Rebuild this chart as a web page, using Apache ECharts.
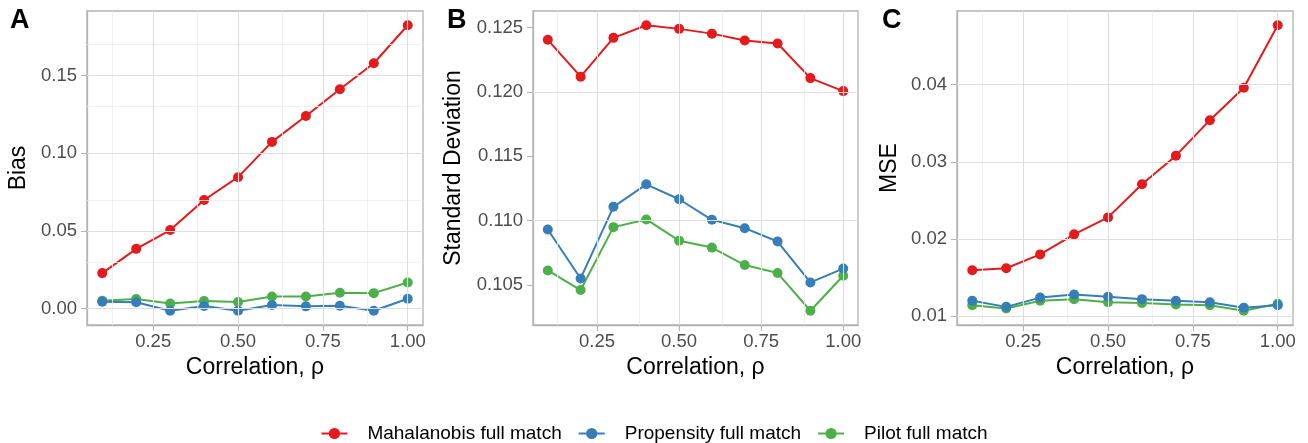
<!DOCTYPE html>
<html><head><meta charset="utf-8">
<script src="https://cdn.jsdelivr.net/npm/echarts@6/dist/echarts.min.js"></script>
<style>html,body{margin:0;padding:0;background:#fff}#c{width:1308px;height:443px}</style>
</head><body><div id="c"></div>
<script>
// ---- data ----
const rho = [0.1, 0.2, 0.3, 0.4, 0.5, 0.6, 0.7, 0.8, 0.9, 1.0];
const seriesNames = ['Mahalanobis full match', 'Propensity full match', 'Pilot full match'];

const biasMahal = [0.0229, 0.0385, 0.0506, 0.0699, 0.0846, 0.1073, 0.1239, 0.1412, 0.1579, 0.1823];
const biasProp  = [0.0045, 0.0041, -0.0013, 0.0017, -0.0013, 0.0024, 0.0015, 0.0019, -0.0013, 0.0064];
const biasPilot = [0.0051, 0.0062, 0.0034, 0.0049, 0.0043, 0.0079, 0.0079, 0.0103, 0.0100, 0.0169];

const sdMahal = [0.12405, 0.12118, 0.1242, 0.12518, 0.1249, 0.12453, 0.12399, 0.12376, 0.12107, 0.12006];
const sdProp  = [0.1093, 0.10549, 0.11106, 0.11281, 0.11165, 0.11005, 0.1094, 0.10836, 0.10518, 0.10626];
const sdPilot = [0.10611, 0.10459, 0.10948, 0.11008, 0.10843, 0.10789, 0.10653, 0.10591, 0.10298, 0.1057];

const mseMahal = [0.01594, 0.0162, 0.0180, 0.0206, 0.0228, 0.0271, 0.0308, 0.0354, 0.0396, 0.0477];
const mseProp  = [0.0120, 0.0112, 0.0124, 0.0128, 0.0125, 0.0122, 0.0120, 0.0118, 0.0111, 0.0114];
const msePilot = [0.0114, 0.0110, 0.0120, 0.0122, 0.0118, 0.0117, 0.0115, 0.0114, 0.0107, 0.0116];

const xTicks = [0.25, 0.5, 0.75, 1.0];
const biasTicks = [0, 0.05, 0.10, 0.15];
const sdTicks = [0.105, 0.110, 0.115, 0.120, 0.125];
const mseTicks = [0.01, 0.02, 0.03, 0.04];

const panelTags = ['A', 'B', 'C'];
const yTitles = ['Bias', 'Standard Deviation', 'MSE'];
const xTitle = 'Correlation, \u03c1';

// ---- layout / style ----
const FONT = 'Liberation Sans, Arial, sans-serif';
const colors = ['#E41A1C', '#377EB8', '#4DAF4A'];
const layout = [
  {left: 87, width: 336, tagX: 10, yTitleX: 19, dec: 2},
  {left: 533, width: 325, tagX: 447, yTitleX: 454, dec: 3},
  {left: 957, width: 336, tagX: 882, yTitleX: 890, dec: 2}
];
const TOP = 11, HEIGHT = 314;

const panelData = [
  {vals: [biasMahal, biasProp, biasPilot], ticks: biasTicks},
  {vals: [sdMahal, sdProp, sdPilot], ticks: sdTicks},
  {vals: [mseMahal, mseProp, msePilot], ticks: mseTicks}
];

function expand(arrs) {
  const all = [].concat(...arrs);
  const lo = Math.min(...all), hi = Math.max(...all), r = hi - lo;
  return [lo - 0.05 * r, hi + 0.05 * r];
}
function minors(ticks, range) {
  const step = ticks[1] - ticks[0];
  const out = [];
  for (let i = -1; i < ticks.length; i++) {
    const v = (i < 0 ? ticks[0] - step / 2 : ticks[i] + step / 2);
    if (v > range[0] && v < range[1]) out.push(+v.toFixed(6));
  }
  return out;
}

const xRange = expand([rho]);
const grids = [], xAxes = [], yAxes = [], series = [], graphics = [];
const MAJOR = {color: '#dedede', width: 1.1, type: 'solid'};
const MINOR = {color: '#ececec', width: 0.8, type: 'solid'};
const BORDER = '#b3b3b3';

panelData.forEach((p, i) => {
  const L = layout[i];
  const yRange = expand(p.vals);
  grids.push({left: L.left, top: TOP, width: L.width, height: HEIGHT, show: true,
    borderColor: BORDER, borderWidth: 1.3, backgroundColor: 'transparent', containLabel: false});
  const labelStyle = {color: '#4d4d4d', fontSize: 18.5, fontFamily: FONT};
  const axisLine = {show: true, onZero: false, lineStyle: {color: BORDER, width: 1.3}};
  xAxes.push({type: 'value', gridIndex: i, min: xRange[0], max: xRange[1], position: 'bottom',
    axisLine: axisLine, splitLine: {show: false},
    axisTick: {show: true, inside: false, length: 6, customValues: xTicks, lineStyle: {color: BORDER, width: 1.1}},
    axisLabel: Object.assign({customValues: xTicks, margin: 7, formatter: v => (+v).toFixed(2)}, labelStyle)});
  yAxes.push({type: 'value', gridIndex: i, min: yRange[0], max: yRange[1], position: 'left',
    axisLine: axisLine, splitLine: {show: false},
    axisTick: {show: true, inside: false, length: 6, customValues: p.ticks, lineStyle: {color: BORDER, width: 1.1}},
    axisLabel: Object.assign({customValues: p.ticks, margin: 10, formatter: v => (+v).toFixed(L.dec)}, labelStyle)});

  const ml = [];
  minors(xTicks, xRange).forEach(v => ml.push({xAxis: v, lineStyle: MINOR}));
  minors(p.ticks, yRange).forEach(v => ml.push({yAxis: v, lineStyle: MINOR}));
  xTicks.forEach(v => ml.push({xAxis: v, lineStyle: MAJOR}));
  p.ticks.forEach(v => ml.push({yAxis: v, lineStyle: MAJOR}));
  series.push({type: 'line', xAxisIndex: i, yAxisIndex: i, data: [], z: 1, silent: true,
    markLine: {silent: true, symbol: ['none', 'none'], label: {show: false}, animation: false, data: ml}});

  // draw order: pilot, propensity, mahalanobis
  [2, 1, 0].forEach(k => {
    series.push({name: seriesNames[k], type: 'line', xAxisIndex: i, yAxisIndex: i, z: 3,
      data: rho.map((x, j) => [x, p.vals[k][j]]),
      symbol: 'circle', symbolSize: 10, showSymbol: true,
      lineStyle: {color: colors[k], width: 2},
      itemStyle: {color: colors[k], borderWidth: 0},
      emphasis: {disabled: true}, animation: false});
  });

  const cx = L.left + L.width / 2, cy = TOP + HEIGHT / 2;
  graphics.push({type: 'text', x: L.tagX, y: 21, style: {text: panelTags[i], fontSize: 27, fontWeight: 'bold',
    fontFamily: FONT, fill: '#000', textAlign: 'left', textVerticalAlign: 'middle'}});
  graphics.push({type: 'text', x: L.yTitleX, y: cy, rotation: Math.PI / 2, style: {text: yTitles[i], fontSize: 23,
    fontFamily: FONT, fill: '#000', textAlign: 'center', textVerticalAlign: 'middle'}});
  graphics.push({type: 'text', x: cx, y: 368, style: {text: xTitle, fontSize: 23,
    fontFamily: FONT, fill: '#000', textAlign: 'center', textVerticalAlign: 'middle'}});
});

const chart = echarts.init(document.getElementById('c'), null, {renderer: 'canvas'});
chart.setOption({
  backgroundColor: '#fff',
  animation: false,
  color: colors,
  grid: grids, xAxis: xAxes, yAxis: yAxes, series: series,
  legend: {data: seriesNames, left: 'center', top: 419, itemWidth: 26, itemHeight: 14, itemGap: 16,
    textStyle: {fontSize: 19, fontFamily: FONT, color: '#000', padding: [0, 0, 0, 15]}, selectedMode: false},
  graphic: graphics
});
</script></body></html>
